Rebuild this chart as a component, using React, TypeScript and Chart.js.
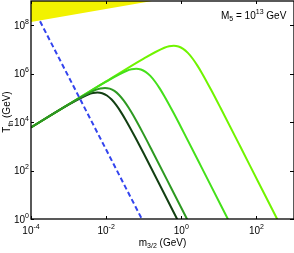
import React, { useEffect, useRef } from "react";
import { Chart, registerables } from "chart.js";

Chart.register(...registerables);

// ---- data ----
const xTickValues = [1e-4, 1e-2, 1, 1e2];
const xTickExponents = ["-4", "-2", "0", "2"];
const yTickValues = [1, 1e2, 1e4, 1e6, 1e8];
const yTickExponents = ["0", "2", "4", "6", "8"];

const curve1X = [1e-4, 1e-3, 3.31e-3, 4.42e-3, 5.89e-3, 7.85e-3, 1.047e-2, 1.4e-2, 1.86e-2, 2.48e-2, 3.31e-2, 5.89e-2, 0.105, 0.331, 0.832];
const curve1Y = [6.03e3, 5.25e4, 1.38e5, 1.59e5, 1.67e5, 1.56e5, 1.25e5, 8.53e4, 4.99e4, 2.59e4, 1.23e4, 2.43e3, 437, 13.3, 0.8];

const curve2X = [1e-4, 1.585e-3, 5.25e-3, 7.0e-3, 9.33e-3, 1.245e-2, 1.66e-2, 2.21e-2, 2.95e-2, 3.94e-2, 5.25e-2, 9.33e-2, 0.166, 0.525, 1.66];
const curve2Y = [6.03e3, 8.13e4, 2.14e5, 2.46e5, 2.59e5, 2.42e5, 1.94e5, 1.32e5, 7.73e4, 4.01e4, 1.91e4, 3.76e3, 676, 20.6, 0.615];

const curve3X = [1e-4, 1e-3, 1e-2, 3.55e-2, 4.73e-2, 6.31e-2, 8.41e-2, 0.112, 0.15, 0.1995, 0.266, 0.355, 0.631, 1.122, 3.55, 11.2, 22.4];
const curve3Y = [6.03e3, 5.37e4, 4.71e5, 1.32e6, 1.51e6, 1.59e6, 1.49e6, 1.19e6, 8.11e5, 4.74e5, 2.47e5, 1.17e5, 2.31e4, 4.16e3, 126, 3.78, 0.46];

const curve4X = [1e-4, 1e-2, 0.1, 0.355, 0.473, 0.631, 0.841, 1.122, 1.496, 1.995, 2.66, 3.55, 6.31, 11.22, 35.5, 112, 398];
const curve4Y = [6.03e3, 4.79e5, 4.2e6, 1.17e7, 1.35e7, 1.42e7, 1.32e7, 1.06e7, 7.23e6, 4.23e6, 2.2e6, 1.05e6, 2.06e5, 3.71e4, 1.13e3, 33.7, 0.71];

const dashedX = [1.74e-4, 0.1];
const dashedY = [1.45e8, 0.71];

const yellowX = [1e-4, 0.2];
const yellowY = [1.35e8, 1.05e9];

const FONT = '"Liberation Sans", Arial, Helvetica, sans-serif';

function pts(xs: number[], ys: number[]) {
  return xs.map((x, i) => ({ x, y: ys[i] }));
}

// draws base text followed by a raised (sup) or lowered (sub) small text; returns width
function drawRich(ctx: CanvasRenderingContext2D, parts: { t: string; k: "n" | "sup" | "sub" }[], x: number, y: number, measureOnly = false) {
  let cx = x;
  for (const p of parts) {
    ctx.font = p.k === "n" ? `10px ${FONT}` : `7px ${FONT}`;
    const dy = p.k === "sup" ? -5 : p.k === "sub" ? 2.5 : 0;
    if (!measureOnly) ctx.fillText(p.t, cx, y + dy);
    cx += ctx.measureText(p.t).width;
  }
  return cx - x;
}

const framePlugin = {
  id: "frame",
  afterDatasetsDraw(chart: any) {
    const ctx: CanvasRenderingContext2D = chart.ctx;
    const a = chart.chartArea;
    const xs = chart.scales.x;
    const ys = chart.scales.y;
    ctx.save();
    ctx.strokeStyle = "#000";
    ctx.lineWidth = 1.3;
    ctx.strokeRect(a.left, a.top, a.right - a.left, a.bottom - a.top);
    ctx.lineWidth = 1;
    ctx.beginPath();
    xTickValues.forEach((v) => {
      const px = Math.round(xs.getPixelForValue(v)) + 0.5;
      ctx.moveTo(px, a.bottom);
      ctx.lineTo(px, a.bottom - 3);
      ctx.moveTo(px, a.top);
      ctx.lineTo(px, a.top + 3);
    });
    yTickValues.forEach((v) => {
      const py = Math.round(ys.getPixelForValue(v)) + 0.5;
      ctx.moveTo(a.left, py);
      ctx.lineTo(a.left + 3, py);
      ctx.moveTo(a.right, py);
      ctx.lineTo(a.right - 4, py);
    });
    ctx.stroke();

    ctx.fillStyle = "#000";
    ctx.textAlign = "left";
    ctx.textBaseline = "alphabetic";
    // x tick labels
    xTickValues.forEach((v, i) => {
      const px = xs.getPixelForValue(v);
      const parts = [{ t: "10", k: "n" as const }, { t: xTickExponents[i], k: "sup" as const }];
      const w = drawRich(ctx, parts, 0, 0, true);
      drawRich(ctx, parts, px - w / 2, 234);
    });
    // y tick labels
    yTickValues.forEach((v, i) => {
      const py = ys.getPixelForValue(v);
      const parts = [{ t: "10", k: "n" as const }, { t: yTickExponents[i], k: "sup" as const }];
      const w = drawRich(ctx, parts, 0, 0, true);
      drawRich(ctx, parts, 29 - w, py + 3.8);
    });
    // x title
    {
      const parts = [
        { t: "m", k: "n" as const },
        { t: "3/2", k: "sub" as const },
        { t: " (GeV)", k: "n" as const },
      ];
      const w = drawRich(ctx, parts, 0, 0, true);
      drawRich(ctx, parts, 162.5 - w / 2, 245.5);
    }
    // y title
    {
      const parts = [
        { t: "T", k: "n" as const },
        { t: "th", k: "sub" as const },
        { t: " (GeV)", k: "n" as const },
      ];
      const w = drawRich(ctx, parts, 0, 0, true);
      ctx.save();
      ctx.translate(10, 112);
      ctx.rotate(-Math.PI / 2);
      drawRich(ctx, parts, -w / 2, 0);
      ctx.restore();
    }
    // annotation
    drawRich(
      ctx,
      [
        { t: "M", k: "n" },
        { t: "5", k: "sub" },
        { t: " = 10", k: "n" },
        { t: "13", k: "sup" },
        { t: " GeV", k: "n" },
      ],
      221,
      18.5
    );
    ctx.restore();
  },
};

export default function App() {
  const ref = useRef<HTMLCanvasElement>(null);
  useEffect(() => {
    if (!ref.current) return;
    const lineDs = (label: string, xs: number[], ys: number[], color: string, order: number) => ({
      label,
      data: pts(xs, ys),
      borderColor: color,
      backgroundColor: color,
      borderWidth: 2,
      pointRadius: 0,
      cubicInterpolationMode: "monotone" as const,
      fill: false,
      order,
    });
    const chart = new Chart(ref.current, {
      type: "line",
      data: {
        datasets: [
          {
            label: "excluded",
            data: pts(yellowX, yellowY),
            borderWidth: 0,
            borderColor: "rgba(0,0,0,0)",
            backgroundColor: "#f2f200",
            pointRadius: 0,
            fill: "end",
            order: 10,
          },
          lineDs("c4", curve4X, curve4Y, "#70f400", 5),
          lineDs("c3", curve3X, curve3Y, "#44e01a", 4),
          lineDs("c1", curve1X, curve1Y, "#123f12", 3),
          lineDs("c2", curve2X, curve2Y, "#2e9a22", 2),
          {
            label: "dashed",
            data: pts(dashedX, dashedY),
            borderColor: "#3344ee",
            borderWidth: 2,
            borderDash: [5, 3],
            pointRadius: 0,
            fill: false,
            order: 1,
          },
        ],
      },
      options: {
        animation: false,
        responsive: false,
        devicePixelRatio: 1,
        layout: { padding: { left: 31, right: -1, top: 1, bottom: 34 } },
        plugins: { legend: { display: false }, tooltip: { enabled: false } },
        scales: {
          x: { type: "logarithmic", min: 1e-4, max: 1e3, display: false },
          y: { type: "logarithmic", min: 1, max: 1e9, display: false },
        },
      },
      plugins: [framePlugin],
    });
    return () => chart.destroy();
  }, []);
  return (
    <div style={{ position: "fixed", left: 0, top: 0, width: 294, height: 253, background: "#fff" }}>
      <canvas ref={ref} width={294} height={253} style={{ display: "block" }} />
    </div>
  );
}
